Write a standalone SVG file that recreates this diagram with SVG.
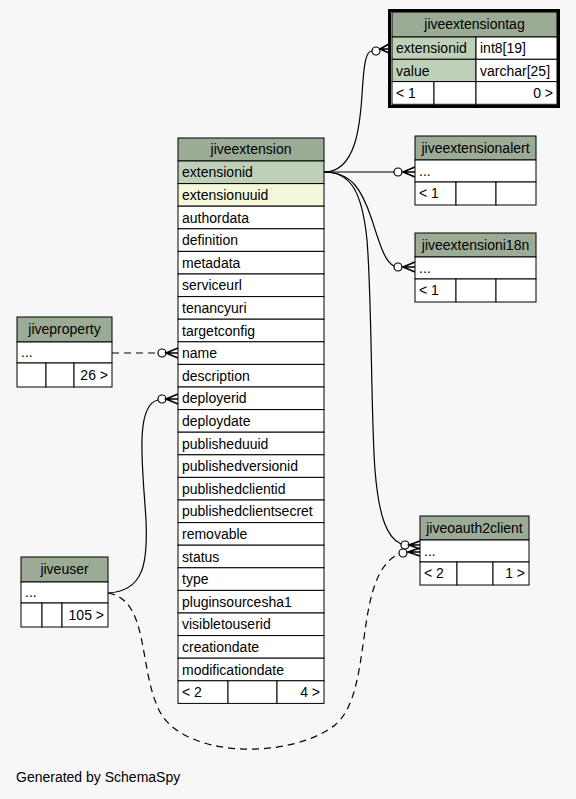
<svg xmlns="http://www.w3.org/2000/svg" width="576" height="799" viewBox="0 0 576 799">
<style>
text{font-family:"Liberation Sans",Arial,Helvetica,sans-serif;font-size:14px;fill:#000}
.h{fill:#9bab96;stroke:#000;stroke-width:1}
.k{fill:#bed1b8;stroke:#000;stroke-width:1}
.ix{fill:#f4f7da;stroke:#000;stroke-width:1}
.c{fill:#fff;stroke:#000;stroke-width:1}
.m{text-anchor:middle}
.r{text-anchor:end}
.ln{fill:none;stroke:#000;stroke-width:1.2}
.d{stroke-dasharray:7,5}
.o{fill:#fff;stroke:#000;stroke-width:1.2}
.cr{fill:none;stroke:#000;stroke-width:1.6}
</style>
<rect width="576" height="799" fill="#f7f7f7"/>

<g id="connectors">
  <path class="ln" d="M324,172 C356,172 360,125 362,95 C364,62 366,51 372,51"/>
  <circle class="o" cx="376" cy="51" r="4"/>
  <path class="cr" d="M389,44 L380,49 L389,53 M389,49 L380,49"/>
  <path class="ln" d="M324,172 L394,172"/>
  <circle class="o" cx="398" cy="172" r="4"/>
  <path class="cr" d="M415,167 L403,172 L415,177 M415,172 L403,172"/>
  <path class="ln" d="M324,172 C352,172 362,190 372,220 C380,245 385,262 394,266"/>
  <circle class="o" cx="398" cy="267" r="4"/>
  <path class="cr" d="M415,262 L403,267 L415,272 M415,267 L403,267"/>
  <path class="ln" d="M324,172 C350,172 362,190 367,240 C372,300 371,420 375,470 C379,520 388,538 401,544"/>
  <circle class="o" cx="405" cy="545" r="4"/>
  <path class="cr" d="M420,541 L409,545 L420,549 M420,545 L409,545"/>
  <path class="ln d" d="M112,353 L158,353"/>
  <circle class="o" cx="162" cy="353" r="4"/>
  <path class="cr" d="M178,348 L166,353 L178,358 M178,353 L166,353"/>
  <path class="ln" d="M108,593 C143,591 148,565 146,520 C143,470 134,405 158,400"/>
  <circle class="o" cx="162" cy="399" r="4"/>
  <path class="cr" d="M178,394 L166,399 L178,404 M178,399 L166,399"/>
  <path class="ln d" d="M108,593 C150,600 138,670 160,712 C185,758 290,760 335,725 C375,692 352,575 399,554"/>
  <circle class="o" cx="403" cy="553" r="4"/>
  <path class="cr" d="M420,548 L408,552 L420,556 M420,552 L408,552"/>
</g>

<g id="jiveextensiontag">
  <rect class="h" x="392" y="12" width="165" height="25"/>
  <text class="m" x="474.5" y="29">jiveextensiontag</text>
  <rect class="k" x="392" y="37" width="84" height="22.3"/>
  <text x="396" y="53">extensionid</text>
  <rect class="c" x="476" y="37" width="81" height="22.3"/>
  <text x="480" y="53">int8[19]</text>
  <rect class="k" x="392" y="59.3" width="84" height="22.3"/>
  <text x="396" y="75.5">value</text>
  <rect class="c" x="476" y="59.3" width="81" height="22.3"/>
  <text x="480" y="75.5">varchar[25]</text>
  <rect class="c" x="392" y="81.6" width="42" height="22.7"/>
  <rect class="c" x="434" y="81.6" width="42" height="22.7"/>
  <rect class="c" x="476" y="81.6" width="81" height="22.7"/>
  <text x="396" y="98">&lt; 1</text>
  <text class="r" x="553" y="98">0 &gt;</text>
  <rect x="389.5" y="10.5" width="169" height="96" fill="none" stroke="#000" stroke-width="3"/>
</g>

<g id="jiveextensionalert">
  <rect class="h" x="415" y="136" width="121" height="24"/>
  <text class="m" x="475.5" y="153">jiveextensionalert</text>
  <rect class="c" x="415" y="160" width="121" height="22"/>
  <text x="419" y="176">...</text>
  <rect class="c" x="415" y="182" width="41" height="23"/>
  <rect class="c" x="456" y="182" width="40" height="23"/>
  <rect class="c" x="496" y="182" width="40" height="23"/>
  <text x="419" y="198">&lt; 1</text>
</g>

<g id="jiveextensioni18n">
  <rect class="h" x="415" y="233" width="121" height="24"/>
  <text class="m" x="475.5" y="250">jiveextensioni18n</text>
  <rect class="c" x="415" y="257" width="121" height="22"/>
  <text x="419" y="273">...</text>
  <rect class="c" x="415" y="279" width="41" height="23"/>
  <rect class="c" x="456" y="279" width="40" height="23"/>
  <rect class="c" x="496" y="279" width="40" height="23"/>
  <text x="419" y="295">&lt; 1</text>
</g>

<g id="jiveextension">
  <rect class="h" x="178" y="138" width="146" height="23"/>
  <text class="m" x="251" y="154">jiveextension</text>
  <rect class="k" x="178" y="161" width="146" height="22.6"/>
  <text x="182" y="177.3">extensionid</text>
  <rect class="ix" x="178" y="183.6" width="146" height="22.6"/>
  <text x="182" y="199.9">extensionuuid</text>
  <rect class="c" x="178" y="206.2" width="146" height="22.6"/>
  <text x="182" y="222.5">authordata</text>
  <rect class="c" x="178" y="228.8" width="146" height="22.6"/>
  <text x="182" y="245.1">definition</text>
  <rect class="c" x="178" y="251.4" width="146" height="22.6"/>
  <text x="182" y="267.7">metadata</text>
  <rect class="c" x="178" y="274" width="146" height="22.6"/>
  <text x="182" y="290.3">serviceurl</text>
  <rect class="c" x="178" y="296.6" width="146" height="22.6"/>
  <text x="182" y="312.9">tenancyuri</text>
  <rect class="c" x="178" y="319.2" width="146" height="22.6"/>
  <text x="182" y="335.5">targetconfig</text>
  <rect class="c" x="178" y="341.8" width="146" height="22.6"/>
  <text x="182" y="358.1">name</text>
  <rect class="c" x="178" y="364.4" width="146" height="22.6"/>
  <text x="182" y="380.7">description</text>
  <rect class="c" x="178" y="387" width="146" height="22.6"/>
  <text x="182" y="403.3">deployerid</text>
  <rect class="c" x="178" y="409.6" width="146" height="22.6"/>
  <text x="182" y="425.9">deploydate</text>
  <rect class="c" x="178" y="432.2" width="146" height="22.6"/>
  <text x="182" y="448.5">publisheduuid</text>
  <rect class="c" x="178" y="454.8" width="146" height="22.6"/>
  <text x="182" y="471.1">publishedversionid</text>
  <rect class="c" x="178" y="477.4" width="146" height="22.6"/>
  <text x="182" y="493.7">publishedclientid</text>
  <rect class="c" x="178" y="500" width="146" height="22.6"/>
  <text x="182" y="516.3">publishedclientsecret</text>
  <rect class="c" x="178" y="522.6" width="146" height="22.6"/>
  <text x="182" y="538.9">removable</text>
  <rect class="c" x="178" y="545.2" width="146" height="22.6"/>
  <text x="182" y="561.5">status</text>
  <rect class="c" x="178" y="567.8" width="146" height="22.6"/>
  <text x="182" y="584.1">type</text>
  <rect class="c" x="178" y="590.4" width="146" height="22.6"/>
  <text x="182" y="606.7">pluginsourcesha1</text>
  <rect class="c" x="178" y="613" width="146" height="22.6"/>
  <text x="182" y="629.3">visibletouserid</text>
  <rect class="c" x="178" y="635.6" width="146" height="22.6"/>
  <text x="182" y="651.9">creationdate</text>
  <rect class="c" x="178" y="658.2" width="146" height="22.6"/>
  <text x="182" y="674.5">modificationdate</text>
  <rect class="c" x="178" y="680.8" width="50" height="22.6"/>
  <rect class="c" x="228" y="680.8" width="49" height="22.6"/>
  <rect class="c" x="277" y="680.8" width="47" height="22.6"/>
  <text x="182" y="697.1">&lt; 2</text>
  <text class="r" x="320" y="697.1">4 &gt;</text>
</g>

<g id="jiveproperty">
  <rect class="h" x="17" y="317" width="95" height="25"/>
  <text class="m" x="64.5" y="334">jiveproperty</text>
  <rect class="c" x="17" y="342" width="95" height="21"/>
  <text x="21" y="357">...</text>
  <rect class="c" x="17" y="363" width="29" height="24"/>
  <rect class="c" x="46" y="363" width="28" height="24"/>
  <rect class="c" x="74" y="363" width="38" height="24"/>
  <text class="r" x="108" y="380">26 &gt;</text>
</g>

<g id="jiveuser">
  <rect class="h" x="21" y="557" width="87" height="25"/>
  <text class="m" x="64.5" y="574">jiveuser</text>
  <rect class="c" x="21" y="582" width="87" height="21"/>
  <text x="25" y="597">...</text>
  <rect class="c" x="21" y="603" width="21" height="24"/>
  <rect class="c" x="42" y="603" width="20" height="24"/>
  <rect class="c" x="62" y="603" width="46" height="24"/>
  <text class="r" x="104" y="620">105 &gt;</text>
</g>

<g id="jiveoauth2client">
  <rect class="h" x="420" y="516" width="109" height="24"/>
  <text class="m" x="474.5" y="533">jiveoauth2client</text>
  <rect class="c" x="420" y="540" width="109" height="22"/>
  <text x="424" y="556">...</text>
  <rect class="c" x="420" y="562" width="37" height="23"/>
  <rect class="c" x="457" y="562" width="36" height="23"/>
  <rect class="c" x="493" y="562" width="36" height="23"/>
  <text x="424" y="578">&lt; 2</text>
  <text class="r" x="525" y="578">1 &gt;</text>
</g>

<text x="16" y="782">Generated by SchemaSpy</text>
</svg>
